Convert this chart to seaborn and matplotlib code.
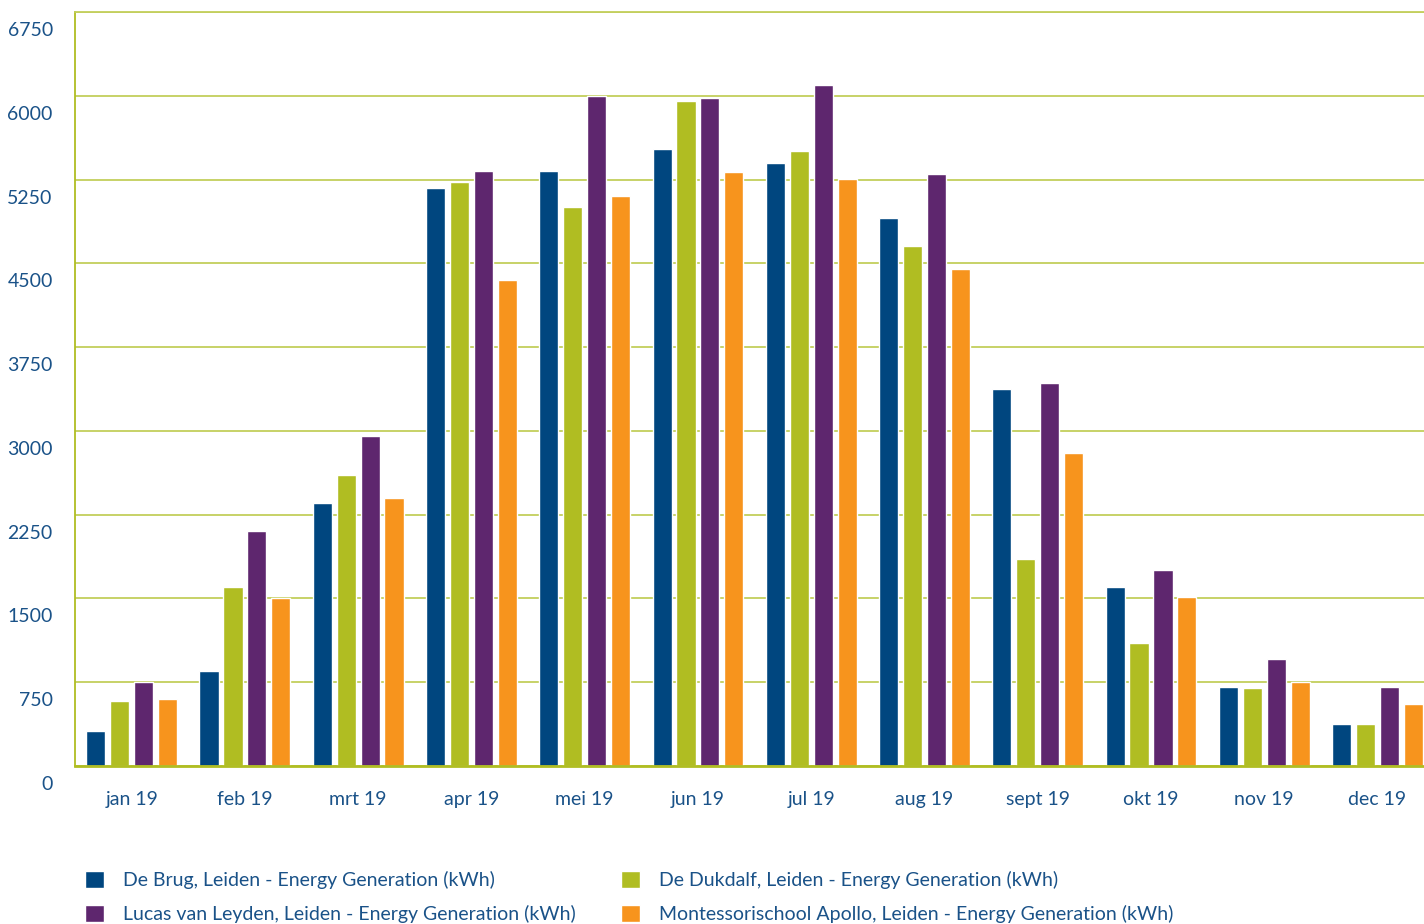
import matplotlib
matplotlib.use("Agg")
import matplotlib.pyplot as plt
import matplotlib.transforms as mtransforms
from matplotlib.patches import Patch
import seaborn as sns
import pandas as pd

months = ["jan 19", "feb 19", "mrt 19", "apr 19", "mei 19", "jun 19",
          "jul 19", "aug 19", "sept 19", "okt 19", "nov 19", "dec 19"]

de_brug = [313, 850, 2354, 5175, 5327, 5524, 5398, 4906, 3375, 1602, 707, 376]
de_dukdalf = [582, 1602, 2605, 5228, 5004, 5953, 5506, 4655, 1853, 1101, 698, 376]
lucas_van_leyden = [752, 2104, 2954, 5327, 5998, 5980, 6097, 5300, 3429, 1755, 958, 707]
montessori_apollo = [600, 1504, 2399, 4351, 5103, 5318, 5255, 4449, 2802, 1513, 752, 555]

series_names = [
    "De Brug, Leiden - Energy Generation (kWh)",
    "De Dukdalf, Leiden - Energy Generation (kWh)",
    "Lucas van Leyden, Leiden - Energy Generation (kWh)",
    "Montessorischool Apollo, Leiden - Energy Generation (kWh)",
]
series_values = [de_brug, de_dukdalf, lucas_van_leyden, montessori_apollo]
colors = ["#00467f", "#b0bd22", "#5e266e", "#f7941d"]

y_ticks = [0, 750, 1500, 2250, 3000, 3750, 4500, 5250, 6000, 6750]

rows = []
for name, vals in zip(series_names, series_values):
    for m, v in zip(months, vals):
        rows.append({"month": m, "site": name, "kwh": v})
df = pd.DataFrame(rows)

sns.set_style("white")
plt.rcParams["font.family"] = ["Lato", "DejaVu Sans"]

text_color = "#1a5288"
grid_color = "#c3cf5c"
axis_color = "#b0bd22"

fig = plt.figure(figsize=(14.24, 9.24), dpi=100)
ax = fig.add_axes([75 / 1424, 158 / 924, 1 - 75 / 1424, (912 - 158) / 924])

sns.barplot(data=df, x="month", y="kwh", hue="site", order=months,
            hue_order=series_names, palette=colors, width=0.845, gap=0.2,
            saturation=1, legend=False, ax=ax)

ax.set_ylim(0, 6750)
ax.set_xlim(-0.5, 11.41)
ax.set_yticks(y_ticks)
ax.set_yticklabels([str(t) for t in y_ticks])
ax.set_xlabel("")
ax.set_ylabel("")

ax.yaxis.grid(True, color=grid_color, linewidth=1.3)
ax.set_axisbelow(True)
ax.spines["right"].set_visible(False)
ax.spines["top"].set_color(grid_color)
ax.spines["top"].set_linewidth(1.3)
ax.spines["left"].set_color(axis_color)
ax.spines["left"].set_linewidth(1.3)
ax.spines["bottom"].set_color(axis_color)
ax.spines["bottom"].set_linewidth(2)

ax.tick_params(axis="both", length=0, labelsize=14, labelcolor=text_color)
ax.tick_params(axis="x", pad=18)
ax.tick_params(axis="y", pad=16)

# y labels sit a little below their gridlines
shift = mtransforms.ScaledTranslation(0, -17 / 100, fig.dpi_scale_trans)
for lab in ax.get_yticklabels():
    lab.set_transform(lab.get_transform() + shift)

# two legend columns, each holding two entries
col1 = [Patch(facecolor=colors[0]), Patch(facecolor=colors[2])]
col2 = [Patch(facecolor=colors[1]), Patch(facecolor=colors[3])]
for handles, labels, x0 in [(col1, [series_names[0], series_names[2]], 85),
                             (col2, [series_names[1], series_names[3]], 621)]:
    leg = fig.legend(handles, labels, loc="upper left",
                     bbox_to_anchor=(x0 / 1424, 1 - 871 / 924),
                     frameon=False, fontsize=14, handlelength=1.0,
                     handleheight=1.0, handletextpad=0.95, labelspacing=0.8,
                     borderpad=0, borderaxespad=0)
    for t in leg.get_texts():
        t.set_color(text_color)

fig.savefig("out.png", dpi=100)
